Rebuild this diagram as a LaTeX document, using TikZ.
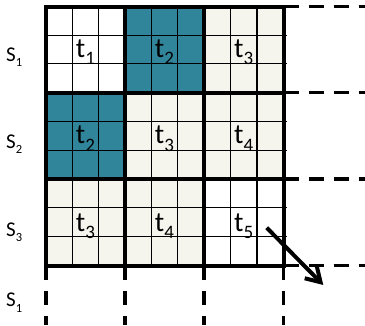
\documentclass[tikz,border=0pt]{standalone}
\usepackage{fontspec}
\setmainfont{Carlito}
\usetikzlibrary{arrows.meta}
\definecolor{tealblock}{RGB}{49,133,155}
\definecolor{creamblock}{RGB}{245,245,238}
\newcommand{\tlab}[1]{\fontsize{28}{28}\selectfont t\raisebox{-0.27em}{\fontsize{19}{19}\selectfont #1}}
\newcommand{\slab}[1]{\fontsize{21}{21}\selectfont S\raisebox{-0.27em}{\fontsize{12.5}{12.5}\selectfont #1}}
\begin{document}
\begin{tikzpicture}[x=1pt,y=-1pt,
  thickline/.style={line width=4pt},
  thinline/.style={line width=1.2pt},
  hdash/.style={line width=3.8pt, dash pattern=on 15pt off 10pt},
  vdash/.style={line width=3.4pt, dash pattern=on 14pt off 11pt},
  tl/.style={inner sep=0pt, anchor=base},
  sl/.style={inner sep=0pt, anchor=base west}]
\useasboundingbox (0,0) rectangle (365,325);
% fills
\fill[creamblock] (46,6.5) rectangle (283.5,265.5);
\fill[white] (46,6.5) rectangle (125,92.5);
\fill[white] (204,179) rectangle (283.5,265.5);
\fill[tealblock] (125,6.5) rectangle (204,92.5);
\fill[tealblock] (46,92.5) rectangle (125,179);
% thin grid
\foreach \x in {72.33,98.67,151.33,177.67,230.5,257}
  \draw[thinline] (\x,6.5) -- (\x,265.5);
\foreach \y in {35.17,63.83,121.33,150.17,207.83,236.67}
  \draw[thinline] (46,\y) -- (286.5,\y);
% thick grid
\draw[thickline] (46,6.5) rectangle (283.5,265.5);
\foreach \x in {125,204}
  \draw[thickline] (\x,6.5) -- (\x,265.5);
\foreach \y in {92.5,179}
  \draw[thickline] (46,\y) -- (283.5,\y);
% dashed continuations
\foreach \y in {6.5,92.5,179,265.5}
  \draw[hdash] (283.5,\y) -- (365,\y);
\foreach \x in {46,125,204,283.5}
  \draw[vdash] (\x,265.5) -- (\x,325);
% labels
\node[tl] (t11) at (85.5,57) {\tlab{1}};
\node[tl] (t12) at (164.5,57) {\tlab{2}};
\node[tl] (t13) at (243.75,57) {\tlab{3}};
\node[tl] (t21) at (85.5,143.5) {\tlab{2}};
\node[tl] (t22) at (164.5,143.5) {\tlab{3}};
\node[tl] (t23) at (243.75,143.5) {\tlab{4}};
\node[tl] (t31) at (85.5,231) {\tlab{3}};
\node[tl] (t32) at (164.5,231) {\tlab{4}};
\node[tl] (t33) at (243.75,231) {\tlab{5}};
\node[sl] (s1) at (6,61) {\slab{1}};
\node[sl] (s2) at (6,148) {\slab{2}};
\node[sl] (s3) at (6,236) {\slab{3}};
\node[sl] (s4) at (6,306.7) {\slab{1}};
% arrow
\coordinate (as) at (266.7,227.7);
\coordinate (ae) at (323.3,285);
\draw[line width=4pt, -{Straight Barb[length=14pt,width=17pt]}] (as) -- (ae);
\end{tikzpicture}
\end{document}
